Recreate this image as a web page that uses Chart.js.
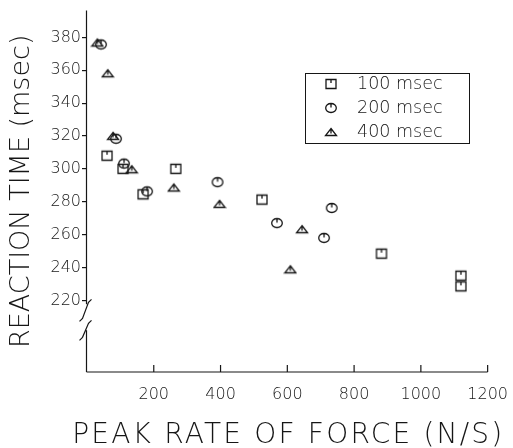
<!DOCTYPE html>
<html><head><meta charset="utf-8">
<script src="https://cdn.jsdelivr.net/npm/chart.js@4"></script>
<style>html,body{margin:0;padding:0;background:#fff}</style>
</head><body>
<canvas id="c" width="513" height="448"></canvas>
<script>
// ---- data ----
const seriesLabels = ['100 msec', '200 msec', '400 msec'];
const x100 = [60, 108, 168, 266, 524, 882, 1120, 1120];
const y100 = [308, 300, 284.5, 300, 281.3, 248.4, 235, 228.5];
const x200 = [42, 87, 111, 180, 391, 569, 733, 710];
const y200 = [375.7, 318.3, 303.2, 286.3, 291.9, 267, 276.2, 258];
const x400 = [31, 62, 78, 134, 260, 397, 644, 609];
const y400 = [376.9, 358.2, 320.1, 299.8, 288.7, 278.7, 263.3, 238.9];
const xTicks = [200, 400, 600, 800, 1000, 1200];
const yTicks = [220, 240, 260, 280, 300, 320, 340, 360, 380];
const xTitle = 'PEAK RATE OF FORCE (N/S)';
const yTitle = 'REACTION TIME (msec)';

const INK = '#161616';
const FONT = 'DejaVu Sans';
const W = '200';

function marker(kind) {
  const c = document.createElement('canvas');
  c.width = 14; c.height = 14;
  const g = c.getContext('2d');
  g.strokeStyle = INK; g.lineWidth = 1.3;
  g.beginPath();
  if (kind === 'square') {
    g.rect(2, 2.5, 10, 9);
    g.moveTo(7, 2.5); g.lineTo(7, 6);
  } else if (kind === 'circle') {
    g.ellipse(7, 7, 5.3, 4.5, 0, 0, Math.PI * 2);
    g.moveTo(7, 2.5); g.lineTo(7, 6.5);
  } else {
    g.moveTo(7, 3.5); g.lineTo(12.5, 10.5); g.lineTo(1.5, 10.5); g.closePath();
    g.moveTo(7, 3.5); g.lineTo(7, 8.5);
  }
  g.stroke();
  return c;
}
const markers = [marker('square'), marker('circle'), marker('triangle')];

function pts(xs, ys) { return xs.map((v, i) => ({ x: v, y: ys[i] })); }

const axisPlugin = {
  id: 'axisPlugin',
  afterDraw(chart) {
    const { ctx, chartArea: a, scales: { x, y } } = chart;
    ctx.save();
    ctx.strokeStyle = INK; ctx.lineWidth = 1.2;
    const L = a.left - 0.5;
    const B = a.bottom;
    const Y = y.getPixelForValue(220);
    ctx.beginPath();
    // y axis with break
    ctx.moveTo(L, a.top); ctx.lineTo(L, Y + 4);
    ctx.moveTo(L + 5, Y - 1); ctx.lineTo(L + 2, Y + 2); ctx.lineTo(L - 4, Y + 18); ctx.lineTo(L - 7, Y + 21);
    ctx.moveTo(L + 5, Y + 20); ctx.lineTo(L + 2, Y + 23); ctx.lineTo(L - 4, Y + 37); ctx.lineTo(L - 7, Y + 40);
    ctx.moveTo(L, Y + 30); ctx.lineTo(L, B);
    // x axis
    ctx.moveTo(L, B); ctx.lineTo(x.getPixelForValue(1200), B);
    xTicks.forEach(v => { const p = x.getPixelForValue(v); ctx.moveTo(p, B); ctx.lineTo(p, B - 7); });
    ctx.stroke();

    // x-axis title (drawn here so it may extend past the plot width)
    ctx.fillStyle = INK;
    ctx.font = W + ' 28px "' + FONT + '"';
    ctx.letterSpacing = '2.2px';
    ctx.textAlign = 'center'; ctx.textBaseline = 'alphabetic';
    ctx.fillText(xTitle, (a.left + a.right) / 2 + 1, 443);
    ctx.letterSpacing = '0px';

    // legend box
    const bx = 305, by = 73, bw = 164, bh = 70;
    ctx.lineWidth = 1;
    ctx.strokeRect(bx + 0.5, by + 0.5, bw, bh);
    ctx.font = W + ' 17.5px "' + FONT + '"';
    ctx.textBaseline = 'middle'; ctx.textAlign = 'left';
    seriesLabels.forEach((lab, i) => {
      const cy = by + 11 + i * 24;
      const m = markers[i];
      ctx.drawImage(m, 331 - m.width / 2, cy - m.height / 2);
      ctx.fillText(lab, 357, cy);
    });
    ctx.restore();
  }
};

const ds = (i, xs, ys) => ({
  label: seriesLabels[i], data: pts(xs, ys), pointStyle: markers[i],
  pointRadius: 6, showLine: false, borderColor: INK, backgroundColor: 'transparent'
});

new Chart(document.getElementById('c'), {
  type: 'scatter',
  data: { datasets: [ds(0, x100, y100), ds(1, x200, y200), ds(2, x400, y400)] },
  options: {
    responsive: false, animation: false, devicePixelRatio: 1,
    layout: { padding: { top: 8, right: 25, left: 0, bottom: 0 } },
    plugins: { legend: { display: false }, tooltip: { enabled: false } },
    scales: {
      x: {
        type: 'linear', min: 0, max: 1200,
        afterBuildTicks: s => { s.ticks = xTicks.map(v => ({ value: v })); },
        afterFit: s => { s.height = 76; },
        grid: { display: false }, border: { display: false },
        ticks: { font: { family: FONT, size: 16, weight: W }, color: INK, padding: 5, maxRotation: 0, autoSkip: false,
                 callback: v => String(v) },
        title: { display: false, text: xTitle }
      },
      y: {
        type: 'linear', min: 176.4, max: 396.3,
        afterBuildTicks: s => { s.ticks = yTicks.map(v => ({ value: v })); },
        afterFit: s => { s.width = 87; },
        grid: { drawOnChartArea: false, drawTicks: true, tickLength: 5, color: INK, lineWidth: 1.2 },
        border: { display: false },
        ticks: { font: { family: FONT, size: 16, weight: W }, color: INK, padding: 1, autoSkip: false,
                 callback: v => String(v) },
        title: { display: true, text: yTitle, font: { family: FONT, size: 27, weight: W }, color: INK, padding: { top: 6, bottom: 0 } }
      }
    }
  },
  plugins: [axisPlugin]
});
</script>
</body></html>
